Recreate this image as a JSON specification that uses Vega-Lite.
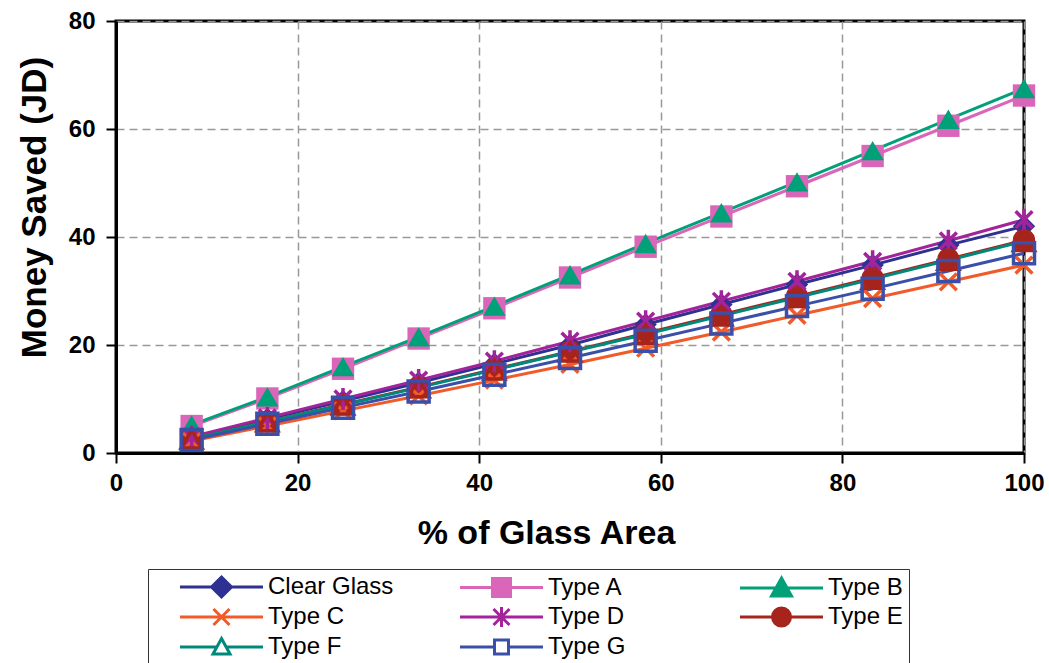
{
  "$schema": "https://vega.github.io/schema/vega-lite/v6.json",
  "autosize": {"type": "none"},
  "padding": {"left": 116, "top": 21, "right": 25, "bottom": 210},
  "width": 908,
  "height": 432,
  "background": "#ffffff",
  "config": {
    "view": {"stroke": "#000000", "strokeWidth": 3},
    "font": "Liberation Sans"
  },
  "data": {"values": [
    {"s": "Clear Glass", "x": 8.33, "y": 2.9}, {"s": "Clear Glass", "x": 16.67, "y": 6.3}, {"s": "Clear Glass", "x": 25, "y": 9.6}, {"s": "Clear Glass", "x": 33.33, "y": 13.0}, {"s": "Clear Glass", "x": 41.67, "y": 16.5}, {"s": "Clear Glass", "x": 50, "y": 20.0}, {"s": "Clear Glass", "x": 58.33, "y": 23.8}, {"s": "Clear Glass", "x": 66.67, "y": 27.5}, {"s": "Clear Glass", "x": 75, "y": 31.2}, {"s": "Clear Glass", "x": 83.33, "y": 34.8}, {"s": "Clear Glass", "x": 91.67, "y": 38.5}, {"s": "Clear Glass", "x": 100, "y": 42.0},
    {"s": "Type A", "x": 8.33, "y": 5.0}, {"s": "Type A", "x": 16.67, "y": 10.1}, {"s": "Type A", "x": 25, "y": 15.6}, {"s": "Type A", "x": 33.33, "y": 21.2}, {"s": "Type A", "x": 41.67, "y": 26.8}, {"s": "Type A", "x": 50, "y": 32.5}, {"s": "Type A", "x": 58.33, "y": 38.2}, {"s": "Type A", "x": 66.67, "y": 43.8}, {"s": "Type A", "x": 75, "y": 49.4}, {"s": "Type A", "x": 83.33, "y": 55.0}, {"s": "Type A", "x": 91.67, "y": 60.6}, {"s": "Type A", "x": 100, "y": 66.2},
    {"s": "Type B", "x": 8.33, "y": 5.2}, {"s": "Type B", "x": 16.67, "y": 10.4}, {"s": "Type B", "x": 25, "y": 16.0}, {"s": "Type B", "x": 33.33, "y": 21.5}, {"s": "Type B", "x": 41.67, "y": 27.2}, {"s": "Type B", "x": 50, "y": 33.0}, {"s": "Type B", "x": 58.33, "y": 38.8}, {"s": "Type B", "x": 66.67, "y": 44.5}, {"s": "Type B", "x": 75, "y": 50.2}, {"s": "Type B", "x": 83.33, "y": 56.0}, {"s": "Type B", "x": 91.67, "y": 61.8}, {"s": "Type B", "x": 100, "y": 67.5},
    {"s": "Type C", "x": 8.33, "y": 2.2}, {"s": "Type C", "x": 16.67, "y": 5.0}, {"s": "Type C", "x": 25, "y": 7.8}, {"s": "Type C", "x": 33.33, "y": 10.6}, {"s": "Type C", "x": 41.67, "y": 13.5}, {"s": "Type C", "x": 50, "y": 16.4}, {"s": "Type C", "x": 58.33, "y": 19.4}, {"s": "Type C", "x": 66.67, "y": 22.4}, {"s": "Type C", "x": 75, "y": 25.5}, {"s": "Type C", "x": 83.33, "y": 28.6}, {"s": "Type C", "x": 91.67, "y": 31.7}, {"s": "Type C", "x": 100, "y": 34.8},
    {"s": "Type D", "x": 8.33, "y": 3.0}, {"s": "Type D", "x": 16.67, "y": 6.5}, {"s": "Type D", "x": 25, "y": 10.0}, {"s": "Type D", "x": 33.33, "y": 13.5}, {"s": "Type D", "x": 41.67, "y": 17.0}, {"s": "Type D", "x": 50, "y": 20.7}, {"s": "Type D", "x": 58.33, "y": 24.4}, {"s": "Type D", "x": 66.67, "y": 28.1}, {"s": "Type D", "x": 75, "y": 31.8}, {"s": "Type D", "x": 83.33, "y": 35.5}, {"s": "Type D", "x": 91.67, "y": 39.3}, {"s": "Type D", "x": 100, "y": 43.2},
    {"s": "Type E", "x": 8.33, "y": 2.6}, {"s": "Type E", "x": 16.67, "y": 5.8}, {"s": "Type E", "x": 25, "y": 9.0}, {"s": "Type E", "x": 33.33, "y": 12.2}, {"s": "Type E", "x": 41.67, "y": 15.5}, {"s": "Type E", "x": 50, "y": 18.8}, {"s": "Type E", "x": 58.33, "y": 22.2}, {"s": "Type E", "x": 66.67, "y": 25.6}, {"s": "Type E", "x": 75, "y": 29.0}, {"s": "Type E", "x": 83.33, "y": 32.4}, {"s": "Type E", "x": 91.67, "y": 35.9}, {"s": "Type E", "x": 100, "y": 39.4},
    {"s": "Type F", "x": 8.33, "y": 2.6}, {"s": "Type F", "x": 16.67, "y": 5.8}, {"s": "Type F", "x": 25, "y": 8.9}, {"s": "Type F", "x": 33.33, "y": 12.1}, {"s": "Type F", "x": 41.67, "y": 15.4}, {"s": "Type F", "x": 50, "y": 18.7}, {"s": "Type F", "x": 58.33, "y": 22.0}, {"s": "Type F", "x": 66.67, "y": 25.4}, {"s": "Type F", "x": 75, "y": 28.8}, {"s": "Type F", "x": 83.33, "y": 32.2}, {"s": "Type F", "x": 91.67, "y": 35.7}, {"s": "Type F", "x": 100, "y": 39.2},
    {"s": "Type G", "x": 8.33, "y": 2.4}, {"s": "Type G", "x": 16.67, "y": 5.4}, {"s": "Type G", "x": 25, "y": 8.4}, {"s": "Type G", "x": 33.33, "y": 11.4}, {"s": "Type G", "x": 41.67, "y": 14.5}, {"s": "Type G", "x": 50, "y": 17.6}, {"s": "Type G", "x": 58.33, "y": 20.8}, {"s": "Type G", "x": 66.67, "y": 24.0}, {"s": "Type G", "x": 75, "y": 27.2}, {"s": "Type G", "x": 83.33, "y": 30.4}, {"s": "Type G", "x": 91.67, "y": 33.7}, {"s": "Type G", "x": 100, "y": 37.0}
  ]},
  "encoding": {
    "x": {
      "field": "x", "type": "quantitative",
      "scale": {"domain": [0, 100], "nice": false, "zero": false},
      "axis": {
        "title": "% of Glass Area",
        "values": [0, 20, 40, 60, 80, 100],
        "domainColor": "#000000", "domainWidth": 3,
        "tickColor": "#000000", "tickWidth": 2, "tickSize": 10,
        "labelFont": "Liberation Sans", "labelFontSize": 24, "labelFontWeight": "bold", "labelColor": "#000000",
        "labelPadding": 8, "labelFlush": false, "labelOverlap": false,
        "grid": true, "gridColor": "#999999", "gridDash": [8, 5], "gridWidth": 1.5,
        "titleFont": "Liberation Sans", "titleFontSize": 34, "titleFontWeight": "bold", "titleColor": "#000000",
        "titleX": 430, "titleY": 90, "titleBaseline": "alphabetic", "titleAlign": "center"
      }
    },
    "y": {
      "field": "y", "type": "quantitative",
      "scale": {"domain": [0, 80], "nice": false},
      "axis": {
        "title": "Money Saved (JD)",
        "values": [0, 20, 40, 60, 80],
        "domainColor": "#000000", "domainWidth": 3,
        "tickColor": "#000000", "tickWidth": 2, "tickSize": 10,
        "labelFont": "Liberation Sans", "labelFontSize": 24, "labelFontWeight": "bold", "labelColor": "#000000",
        "labelPadding": 11, "labelFlush": false, "labelOverlap": false,
        "grid": true, "gridColor": "#999999", "gridDash": [8, 5], "gridWidth": 1.5,
        "titleFont": "Liberation Sans", "titleFontSize": 35, "titleFontWeight": "bold", "titleColor": "#000000",
        "titleX": -71, "titleY": 186, "titleBaseline": "alphabetic", "titleAlign": "center", "titleAngle": 270
      }
    }
  },
  "layer": [
    {
      "mark": {"type": "line", "strokeWidth": 3},
      "encoding": {
        "stroke": {
          "field": "s", "type": "nominal", "legend": null,
          "scale": {
            "domain": ["Clear Glass", "Type A", "Type B", "Type C", "Type D", "Type E", "Type F", "Type G"],
            "range": ["#2E3192", "#D966B8", "#00A078", "#F15A29", "#A3239A", "#A6241C", "#00897B", "#3A4FA8"]
          }
        }
      }
    },
    {
      "transform": [{"filter": {"field": "s", "oneOf": ["Clear Glass", "Type A", "Type B", "Type E"]}}],
      "mark": {"type": "point", "filled": true, "opacity": 1, "size": 500},
      "encoding": {
        "color": {
          "field": "s", "type": "nominal", "legend": null,
          "scale": {
            "domain": ["Clear Glass", "Type A", "Type B", "Type C", "Type D", "Type E", "Type F", "Type G"],
            "range": ["#2E3192", "#D966B8", "#00A078", "#F15A29", "#A3239A", "#A6241C", "#A6241C", "#3A4FA8"]
          }
        },
        "shape": {
          "field": "s", "type": "nominal", "legend": null,
          "scale": {
            "domain": ["Clear Glass", "Type A", "Type B", "Type E"],
            "range": ["diamond", "square", "triangle-up", "circle"]
          }
        }
      }
    },
    {
      "transform": [{"filter": {"field": "s", "oneOf": ["Type C", "Type D", "Type F", "Type G"]}}],
      "mark": {"type": "point", "filled": false, "opacity": 1, "strokeWidth": 3.5, "size": 440},
      "encoding": {
        "color": {
          "field": "s", "type": "nominal", "legend": null,
          "scale": {
            "domain": ["Clear Glass", "Type A", "Type B", "Type C", "Type D", "Type E", "Type F", "Type G"],
            "range": ["#2E3192", "#D966B8", "#00A078", "#F15A29", "#A3239A", "#A6241C", "#A6241C", "#3A4FA8"]
          }
        },
        "shape": {
          "field": "s", "type": "nominal", "legend": null,
          "scale": {
            "domain": ["Type C", "Type D", "Type F", "Type G"],
            "range": ["M-0.8,-0.8L0.8,0.8M-0.8,0.8L0.8,-0.8", "M-0.8,-0.8L0.8,0.8M-0.8,0.8L0.8,-0.8M0,-1.05V1.05", "triangle-up", "square"]
          }
        }
      }
    },
    {
      "transform": [{"filter": "datum.y < 0"}],
      "mark": {"type": "point", "filled": true, "opacity": 1, "strokeWidth": 3},
      "encoding": {
        "shape": {
          "field": "s", "type": "nominal",
          "scale": {
            "domain": ["Clear Glass", "Type C", "Type F", "Type A", "Type D", "Type G", "Type B", "Type E"],
            "range": [
              "M1.4,0H9.7M5.55,-1L6.55,0L5.55,1L4.55,0Z",
              "M1.4,0H9.7M4.75,-0.8L6.35,0.8M4.75,0.8L6.35,-0.8",
              "M1.4,0H5M6.1,0H9.7M5.55,-0.85L6.4,0.7H4.7Z",
              "M1.4,0H9.7M4.65,-0.9H6.45V0.9H4.65Z",
              "M1.4,0H9.7M4.75,-0.8L6.35,0.8M4.75,0.8L6.35,-0.8M5.55,-1V1",
              "M1.4,0H4.85M6.25,0H9.7M4.85,-0.7H6.25V0.7H4.85Z",
              "M1.4,0H9.7M5.55,-1L6.55,0.8H4.55Z",
              "M1.4,0H9.7M4.65,0A0.9,0.9,0,1,1,6.45,0A0.9,0.9,0,1,1,4.65,0Z"
            ]
          },
          "legend": {
            "title": null,
            "orient": "none",
            "legendX": 32,
            "legendY": 548,
            "columns": 3,
            "gridAlign": "all",
            "columnPadding": 40,
            "rowPadding": -2,
            "padding": 6,
            "strokeColor": "#333333",
            "symbolSize": 400,
            "symbolStrokeWidth": 3,
            "symbolOpacity": 1,
            "labelFont": "Liberation Sans",
            "labelFontSize": 24,
            "labelColor": "#000000",
            "labelOffset": 90,
            "labelLimit": 400,
            "symbolLimit": 0
          }
        },
        "color": {
          "field": "s", "type": "nominal",
          "scale": {
            "domain": ["Clear Glass", "Type C", "Type F", "Type A", "Type D", "Type G", "Type B", "Type E"],
            "range": ["#2E3192", "#F15A29", "#FFFFFF", "#D966B8", "#A3239A", "#FFFFFF", "#00A078", "#A6241C"]
          }
        },
        "stroke": {
          "field": "s", "type": "nominal",
          "scale": {
            "domain": ["Clear Glass", "Type C", "Type F", "Type A", "Type D", "Type G", "Type B", "Type E"],
            "range": ["#2E3192", "#F15A29", "#00897B", "#D966B8", "#A3239A", "#3A4FA8", "#00A078", "#A6241C"]
          }
        }
      }
    }
  ],
  "resolve": {"scale": {"shape": "independent", "stroke": "independent", "color": "independent"}}
}
